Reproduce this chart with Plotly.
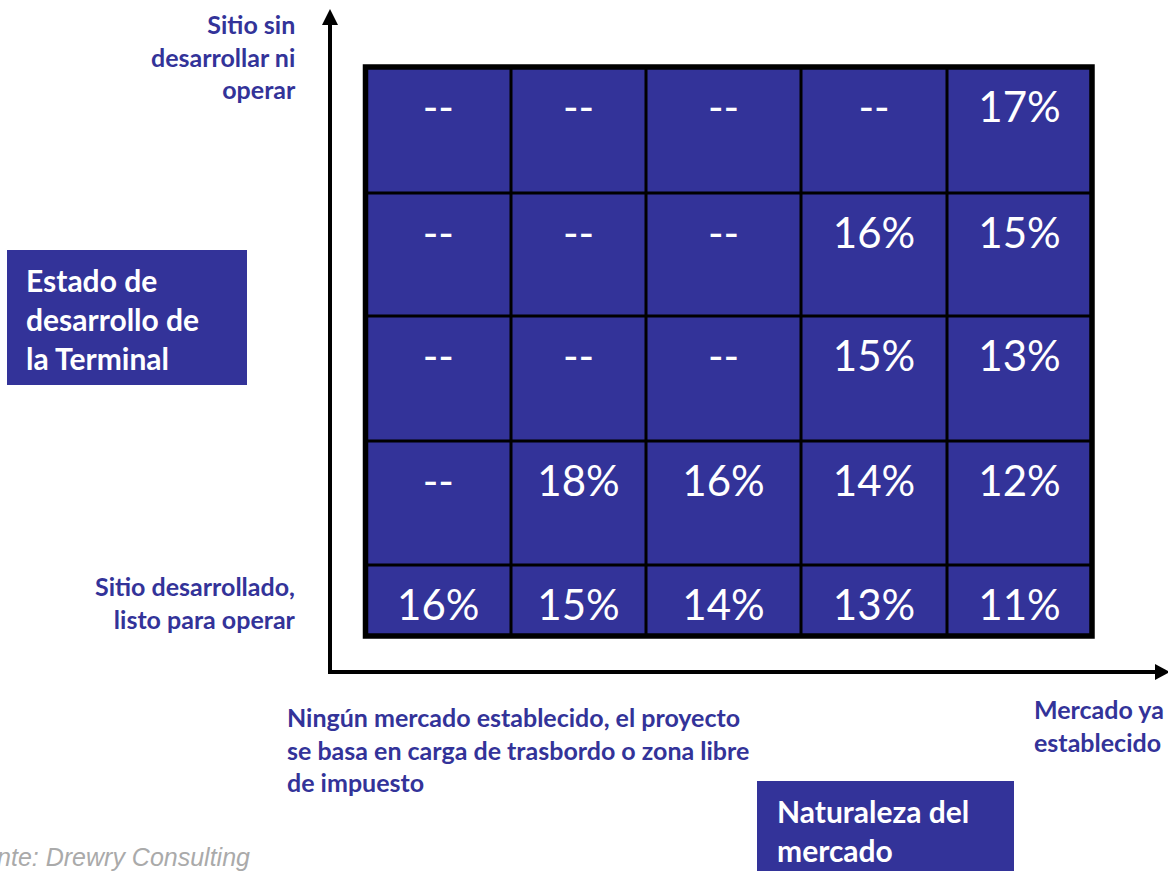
import plotly.graph_objects as go

# ---- data ----
row_labels = ["Sitio sin desarrollar ni operar", "r2", "r3", "r4", "Sitio desarrollado, listo para operar"]
col_labels = ["Ningún mercado", "c2", "c3", "c4", "Mercado ya establecido"]
values = [
    [None, None, None, None, 17],
    [None, None, None, 16, 15],
    [None, None, None, 15, 13],
    [None, 18, 16, 14, 12],
    [16, 15, 14, 13, 11],
]

# ---- layout constants (page pixel coordinates used as data space) ----
W, H = 1168, 871
col_edges = [365.5, 511, 646, 801, 947, 1092]
row_edges = [67, 193, 316, 441, 565, 636]
BLUE = "#333399"
TXT_FONT = "Lato"

fig = go.Figure()

# cells
fig.add_trace(go.Heatmap(
    x=col_edges, y=row_edges,
    z=[[1] * 5 for _ in range(5)],
    colorscale=[[0, BLUE], [1, BLUE]], showscale=False, hoverinfo="skip",
))

# cell text
tx, ty, tt = [], [], []
for r in range(5):
    for c in range(5):
        v = values[r][c]
        tx.append((col_edges[c] + col_edges[c + 1]) / 2)
        ty.append(row_edges[r] + 44)
        tt.append("--" if v is None else f"{v}%")
fig.add_trace(go.Scatter(
    x=tx, y=ty, text=tt, mode="text",
    textfont=dict(family=TXT_FONT, size=42, color="white"),
    textposition="middle center", hoverinfo="skip",
))

# grid lines
shapes = []
for xe in col_edges[1:-1]:
    shapes.append(dict(type="line", x0=xe, x1=xe, y0=row_edges[0], y1=row_edges[-1],
                       line=dict(color="black", width=3), xref="x", yref="y"))
for ye in row_edges[1:-1]:
    shapes.append(dict(type="line", x0=col_edges[0], x1=col_edges[-1], y0=ye, y1=ye,
                       line=dict(color="black", width=3), xref="x", yref="y"))
shapes.append(dict(type="rect", x0=col_edges[0], x1=col_edges[-1], y0=row_edges[0], y1=row_edges[-1],
                   line=dict(color="black", width=5.5), xref="x", yref="y"))
# label boxes
shapes.append(dict(type="rect", x0=7, x1=247, y0=250, y1=385, fillcolor=BLUE,
                   line=dict(width=0), xref="x", yref="y", layer="below"))
shapes.append(dict(type="rect", x0=757, x1=1014, y0=781, y1=875, fillcolor=BLUE,
                   line=dict(width=0), xref="x", yref="y", layer="below"))
# axis lines
shapes.append(dict(type="line", x0=330, x1=330, y0=673, y1=22,
                   line=dict(color="black", width=4), xref="x", yref="y"))
shapes.append(dict(type="line", x0=328, x1=1158, y0=672, y1=672,
                   line=dict(color="black", width=4), xref="x", yref="y"))
# arrow heads
shapes.append(dict(type="path", path="M 322 25 L 338 25 L 330 9 Z", fillcolor="black",
                   line=dict(width=0), xref="x", yref="y"))
shapes.append(dict(type="path", path="M 1155 664 L 1155 680 L 1170 672 Z", fillcolor="black",
                   line=dict(width=0), xref="x", yref="y"))

ann = []
def label(text, x, y, xanchor, size, color, bold=True, family=TXT_FONT):
    ann.append(dict(text=text, x=x, y=y, xref="x", yref="y", xanchor=xanchor, yanchor="middle",
                    showarrow=False, align=xanchor,
                    font=dict(family=family, size=size, color=color,
                              weight="bold" if bold else "normal")))

label("Sitio sin<br>desarrollar ni<br>operar", 298, 56, "right", 25, BLUE)
label("Sitio desarrollado,<br>listo para operar", 298, 602, "right", 25, BLUE)
label("Estado de<br>desarrollo de<br>la Terminal", 24, 319, "left", 30, "white")
label("Ningún mercado establecido, el proyecto<br>se basa en carga de trasbordo o zona libre<br>de impuesto",
      285, 749, "left", 25, BLUE)
label("Mercado ya<br>establecido", 1032, 725, "left", 25, BLUE)
label("Naturaleza del<br>mercado", 775, 830, "left", 30, "white")
ann.append(dict(text="Fuente: Drewry Consulting", x=252, y=857, xref="x", yref="y",
                xanchor="right", yanchor="middle", showarrow=False,
                font=dict(family="Liberation Sans", size=25, color="#aaaaaa", style="italic")))

fig.update_layout(
    width=W, height=H, margin=dict(l=0, r=0, t=0, b=0),
    paper_bgcolor="white", plot_bgcolor="white",
    xaxis=dict(range=[0, W], visible=False, fixedrange=True),
    yaxis=dict(range=[H, 0], visible=False, fixedrange=True),
    shapes=shapes, annotations=ann, showlegend=False,
)

fig.write_html("out.html")
